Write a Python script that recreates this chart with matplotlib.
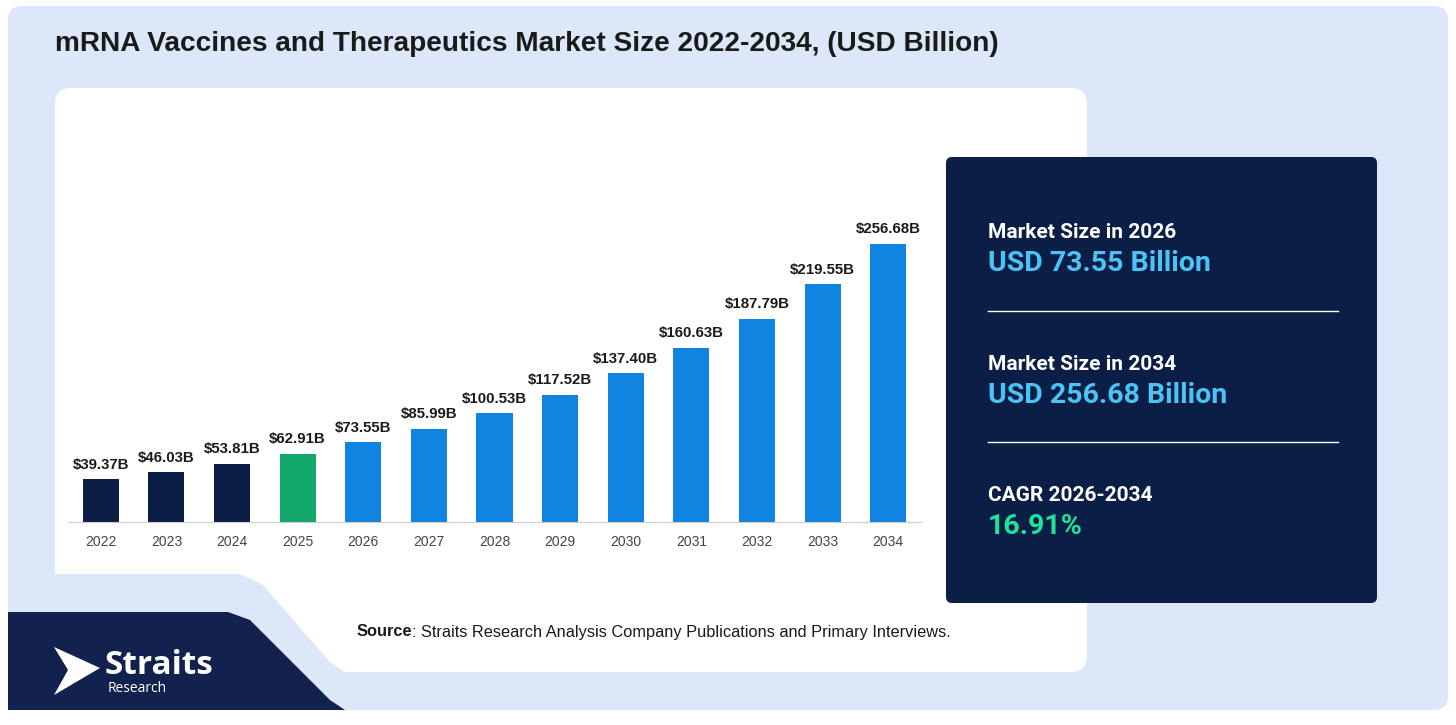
import matplotlib.pyplot as plt
from matplotlib.patches import FancyBboxPatch, Polygon

W, H = 1456, 725

years = ["2022", "2023", "2024", "2025", "2026", "2027", "2028", "2029", "2030", "2031", "2032", "2033", "2034"]
values = [39.37, 46.03, 53.81, 62.91, 73.55, 85.99, 100.53, 117.52, 137.40, 160.63, 187.79, 219.55, 256.68]
bar_colors = ["#0b1f46"] * 3 + ["#12a86b"] + ["#0f84e0"] * 9

PANEL = "#dce8f9"

fig = plt.figure(figsize=(W / 100, H / 100), dpi=100)
bg = fig.add_axes([0, 0, 1, 1])
bg.set_xlim(0, W)
bg.set_ylim(H, 0)
bg.axis("off")

# light blue panel
bg.add_patch(FancyBboxPatch((8, 6), W - 16, 704, boxstyle="round,pad=0,rounding_size=14",
                            fc=PANEL, ec="none"))
# white card with cut corner
bg.add_patch(FancyBboxPatch((55, 88), 1032, 584, boxstyle="round,pad=0,rounding_size=16",
                            fc="white", ec="none"))
bg.add_patch(Polygon([(50, 574), (240, 574), (262, 584), (330, 662), (350, 676), (50, 676)],
                     closed=True, fc=PANEL, ec="none"))
# navy corner shape (logo area)
bg.add_patch(Polygon([(8, 612), (228, 612), (250, 620), (330, 700), (345, 710), (8, 710)],
                     closed=True, fc="#12214d", ec="none"))

# title
bg.text(55, 44, "mRNA Vaccines and Therapeutics Market Size 2022-2034, (USD Billion)",
        fontsize=20.2, fontweight="bold", color="#1a1a1a", va="center", family="Liberation Sans")

# source
bg.text(357, 632, "Source", fontsize=11.8, fontweight="bold", color="#1a1a1a", va="center",
        family="Liberation Sans")
bg.text(412, 632, ": Straits Research Analysis Company Publications and Primary Interviews.",
        fontsize=11.8, color="#1a1a1a", va="center", family="Liberation Sans")

# logo
bg.add_patch(Polygon([(54, 647), (100, 668), (54, 695), (68, 670)], closed=True, fc="white", ec="none"))
bg.text(105, 666, "Straits", fontsize=24, fontweight="bold", color="white", va="center", family="Open Sans")
bg.text(108, 688, "Research", fontsize=10, color="white", va="center", family="Open Sans")

# info box
bg.add_patch(FancyBboxPatch((946, 157), 431, 446, boxstyle="round,pad=0,rounding_size=6",
                            fc="#0b1f46", ec="none"))
info = [("Market Size in 2026", "USD 73.55 Billion", "#4cc3f5", 232),
        ("Market Size in 2034", "USD 256.68 Billion", "#4cc3f5", 364),
        ("CAGR 2026-2034", "16.91%", "#1fe39a", 495)]
for label, val, c, y in info:
    bg.text(988, y, label, fontsize=15, fontweight="bold", color="white", va="center", family="Roboto")
    bg.text(988, y + 31, val, fontsize=20.5, fontweight="bold", color=c, va="center", family="Roboto")
for y in (311, 442):
    bg.plot([988, 1338], [y, y], color="white", lw=1)

# bar chart
x0, x1, ytop, ybase = 68, 921, 130, 522
ax = fig.add_axes([x0 / W, 1 - ybase / H, (x1 - x0) / W, (ybase - ytop) / H])
ax.bar(range(len(years)), values, width=0.55, color=bar_colors)
ax.set_xlim(-0.5, len(years) - 0.5)
ax.set_ylim(0, 256.68 * (ybase - ytop) / 278)
for i, v in enumerate(values):
    ax.text(i, v + 7, f"${v:.2f}B", ha="center", va="bottom", fontsize=10.8, fontweight="bold",
            color="#1a1a1a", family="Liberation Sans")
ax.set_xticks(range(len(years)))
ax.set_xticklabels(years, fontsize=10, color="#444444", family="Liberation Sans")
ax.tick_params(axis="x", length=0, pad=9)
ax.set_yticks([])
for s in ("top", "right", "left"):
    ax.spines[s].set_visible(False)
ax.spines["bottom"].set_color("#cccccc")
ax.patch.set_alpha(0)

fig.savefig("out.png", dpi=100)
